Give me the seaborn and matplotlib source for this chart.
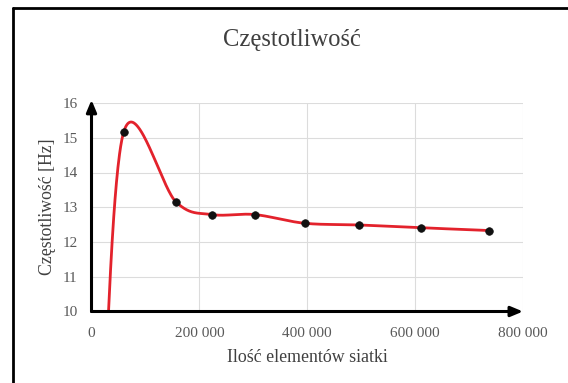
import numpy as np
import pandas as pd
import seaborn as sns
import matplotlib
matplotlib.use("Agg")
import matplotlib.pyplot as plt
from matplotlib.lines import Line2D

# ---- data ----
elements = [20000, 59600, 156800, 223500, 302400, 395000, 496300, 611100, 737600]
frequency = [6.0, 15.16, 13.15, 12.79, 12.79, 12.54, 12.49, 12.41, 12.33]
x_ticks = [0, 200000, 400000, 600000, 800000]
x_tick_labels = ["0", "200 000", "400 000", "600 000", "800 000"]
y_ticks = [10, 11, 12, 13, 14, 15, 16]

title = "Częstotliwość"
xlabel = "Ilość elementów siatki"
ylabel = "Częstotliwość [Hz]"


def smooth_curve(xs, ys, n=60):
    """Excel-like smoothed line (Catmull-Rom as cubic Bezier)."""
    P = np.column_stack([xs, ys]).astype(float)
    out = []
    m = len(P)
    for i in range(m - 1):
        p0 = P[i - 1] if i > 0 else P[i]
        p1 = P[i]
        p2 = P[i + 1]
        p3 = P[i + 2] if i + 2 < m else P[i + 1]
        c1 = p1 + (p2 - p0) / 6.0
        c2 = p2 - (p3 - p1) / 6.0
        t = np.linspace(0, 1, n)[:, None]
        seg = ((1 - t) ** 3) * p1 + 3 * ((1 - t) ** 2) * t * c1 + 3 * (1 - t) * t ** 2 * c2 + t ** 3 * p2
        out.append(seg if i == 0 else seg[1:])
    return np.vstack(out)


sns.set_theme(style="white")
plt.rcParams["font.family"] = ["Liberation Serif", "DejaVu Serif"]

fig = plt.figure(figsize=(5.68, 3.83), dpi=100)
W, H = 568, 383
L, R, T, B = 91.5, 523, 103, 311.5
ax = fig.add_axes([L / W, (H - B) / H, (R - L) / W, (B - T) / H])

curve = smooth_curve(elements, frequency)
df_curve = pd.DataFrame({"x": curve[:, 0], "y": curve[:, 1]})
df_pts = pd.DataFrame({"x": elements, "y": frequency})

sns.lineplot(data=df_curve, x="x", y="y", sort=False, color="#E3222C", linewidth=2.0, ax=ax, zorder=3)
sns.scatterplot(data=df_pts, x="x", y="y", color="#111111", s=30, edgecolor="#111111", linewidth=0.5, ax=ax, zorder=4)

ax.set_xlim(0, 800000)
ax.set_ylim(10, 16)
ax.set_xticks(x_ticks)
ax.set_xticklabels(x_tick_labels)
ax.set_yticks(y_ticks)
ax.grid(True, color="#DCDCDC", linewidth=0.8)
ax.set_axisbelow(True)
for s in ax.spines.values():
    s.set_visible(False)
ax.tick_params(axis="both", length=0, colors="#595959", labelsize=11)
ax.tick_params(axis="x", pad=11)
ax.tick_params(axis="y", pad=10)

# axis arrows
ax.annotate("", xy=(1.0, 0), xytext=(0, 0), xycoords="axes fraction",
            arrowprops=dict(arrowstyle="-|>,head_length=0.6,head_width=0.25", color="black", lw=2.2,
                            shrinkA=0, shrinkB=0), annotation_clip=False)
ax.annotate("", xy=(0, 1.015), xytext=(0, 0), xycoords="axes fraction",
            arrowprops=dict(arrowstyle="-|>,head_length=0.6,head_width=0.25", color="black", lw=2.2,
                            shrinkA=0, shrinkB=0), annotation_clip=False)

ax.set_xlabel(xlabel, fontsize=12.9, color="#404040")
ax.set_ylabel(ylabel, fontsize=12.8, color="#404040")
ax.xaxis.label.set_va("center")
ax.yaxis.label.set_va("center")
ax.xaxis.set_label_coords((307 - L) / (R - L), (B - 357) / (B - T))
ax.yaxis.set_label_coords((47 - L) / (R - L), (B - 207) / (B - T))

fig.text(291.5 / W, 1 - 40 / H, title, ha="center", va="center", fontsize=17.7, color="#404040")

# outer frame (left and top edges visible)
fig.add_artist(Line2D([13 / W, 13 / W], [0, 1 - 8 / H], color="black", lw=2, transform=fig.transFigure))
fig.add_artist(Line2D([13 / W, 1], [1 - 8 / H, 1 - 8 / H], color="black", lw=2, transform=fig.transFigure))

fig.savefig("out.png", dpi=100, facecolor="white")
